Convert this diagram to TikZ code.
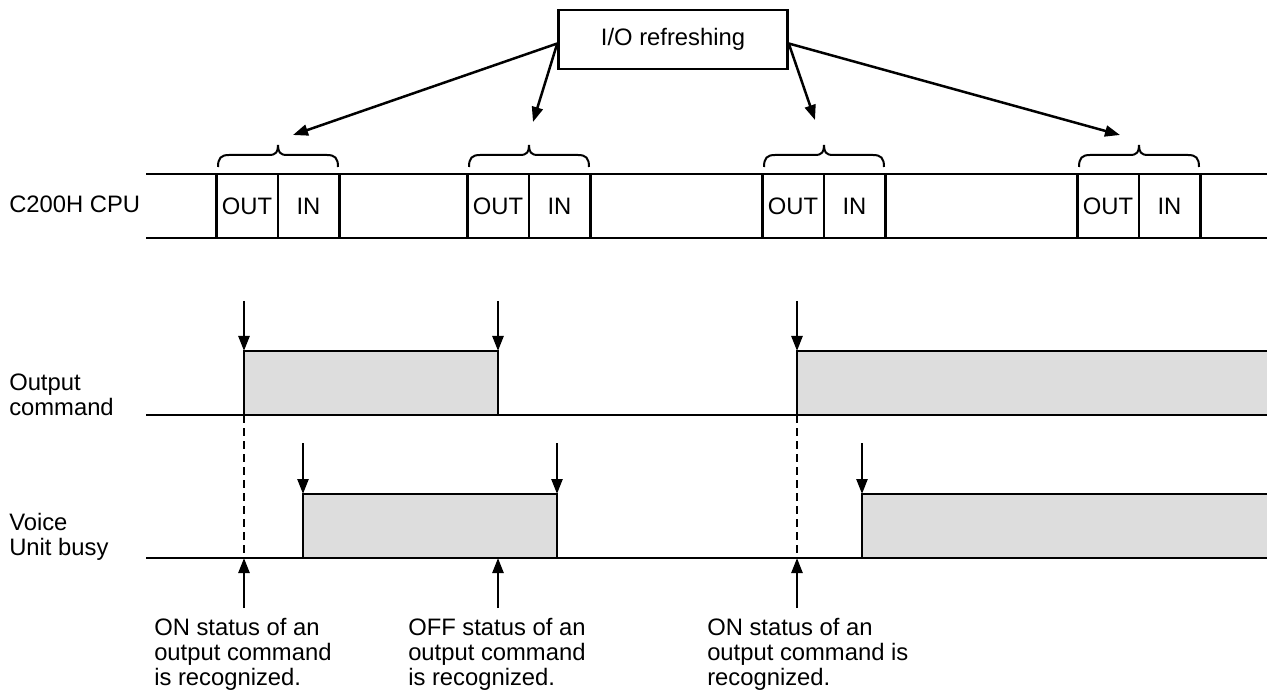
\documentclass[tikz,border=0pt]{standalone}
\usepackage{fontspec}
\setmainfont{Liberation Sans}
\usetikzlibrary{arrows.meta}
\definecolor{pulsegray}{RGB}{221,221,221}
\begin{document}
\begin{tikzpicture}[x=1pt,y=-1pt,line width=2.5pt,
  every node/.style={font=\fontsize{23.8}{25}\selectfont,inner sep=0pt},
  cell/.style={draw,line width=2.5pt,minimum width=61.5pt,minimum height=64pt},
  arr/.style={-{Triangle[length=15pt,width=11pt]},line width=2.5pt},
  dashline/.style={line width=2.5pt,dash pattern=on 8pt off 5pt},
  lbl/.style={anchor=base west}]
\useasboundingbox (0,0) rectangle (1271,692);

% I/O refreshing box and arrows
\node[draw,line width=2.5pt,minimum width=229pt,minimum height=59pt] (io) at (673,39.5) {I/O refreshing};
\coordinate (t1) at (293,135);
\coordinate (t2) at (533,122);
\coordinate (t3) at (815,120);
\coordinate (t4) at (1120,135);
\draw[arr] ([yshift=-4pt]io.west) -- (t1);
\draw[arr] ([yshift=-4pt]io.west) -- (t2);
\draw[arr] ([yshift=-4pt]io.east) -- (t3);
\draw[arr] ([yshift=-4pt]io.east) -- (t4);

% CPU lines
\node[lbl] (cpu) at (8,213) {C200H CPU};
\coordinate (cpuTa) at (146,174);
\coordinate (cpuTb) at (1267,174);
\coordinate (cpuBa) at (146,238);
\coordinate (cpuBb) at (1267,238);
\draw (cpuTa) -- (cpuTb);
\draw (cpuBa) -- (cpuBb);

% OUT / IN cells and braces
\foreach \i/\a in {1/216,2/467,3/762,4/1077}{
  \node[cell] (out\i) at (\a+31,206) {OUT};
  \node[cell] (in\i) at (\a+92.5,206) {IN};
  \pgfmathsetmacro{\L}{\a+2}
  \pgfmathsetmacro{\R}{\a+122}
  \pgfmathsetmacro{\M}{\a+62}
  \draw[line width=2pt] (\L,167) .. controls (\L,158) and (\L+3,155) .. (\L+11,155)
     -- (\M-9,155) .. controls (\M-2,155) and (\M,152) .. (\M,145)
     .. controls (\M,152) and (\M+2,155) .. (\M+9,155)
     -- (\R-11,155) .. controls (\R-3,155) and (\R,158) .. (\R,167);
}

% Output command signal
\node[lbl] (oc) at (8,390) {\vtop{\hbox{Output}\hbox{command}}};
\fill[pulsegray] (244,351) rectangle (498,415);
\fill[pulsegray] (797,351) rectangle (1267,415);
\draw (146,415) -- (1267,415);
\draw (244,415) -- (244,351) -- (498,351) -- (498,415);
\draw (797,415) -- (797,351) -- (1267,351);

% Voice Unit busy signal
\node[lbl] (vu) at (8,530) {\vtop{\hbox{Voice}\hbox{Unit busy}}};
\fill[pulsegray] (303,494) rectangle (557,558);
\fill[pulsegray] (862,494) rectangle (1267,558);
\draw (146,558) -- (1267,558);
\draw (303,558) -- (303,494) -- (557,494) -- (557,558);
\draw (862,558) -- (862,494) -- (1267,494);

% down arrows on output command
\foreach \x [count=\k] in {244,498,797}{
  \coordinate (od\k) at (\x,301);
  \coordinate (oe\k) at (\x,351);
  \draw[arr] (od\k) -- (oe\k);
}
% down arrows on voice unit busy
\foreach \x [count=\k] in {303,557,862}{
  \coordinate (vd\k) at (\x,443);
  \coordinate (ve\k) at (\x,494);
  \draw[arr] (vd\k) -- (ve\k);
}
% dashed lines
\foreach \x [count=\k] in {244,797}{
  \coordinate (da\k) at (\x,415);
  \coordinate (db\k) at (\x,558);
  \draw[dashline] (da\k) -- (db\k);
}
% bottom labels and up arrows
\node[lbl] (r1) at (153,635) {\vtop{\hbox{ON status of an}\hbox{output command}\hbox{is recognized.}}};
\node[lbl] (r2) at (407,635) {\vtop{\hbox{OFF status of an}\hbox{output command}\hbox{is recognized.}}};
\node[lbl] (r3) at (706,635) {\vtop{\hbox{ON status of an}\hbox{output command is}\hbox{recognized.}}};
\foreach \x [count=\k] in {244,498,797}{
  \coordinate (ua\k) at (\x,608);
  \coordinate (ub\k) at (\x,558);
  \draw[arr] (ua\k) -- (ub\k);
}
\end{tikzpicture}
\end{document}
